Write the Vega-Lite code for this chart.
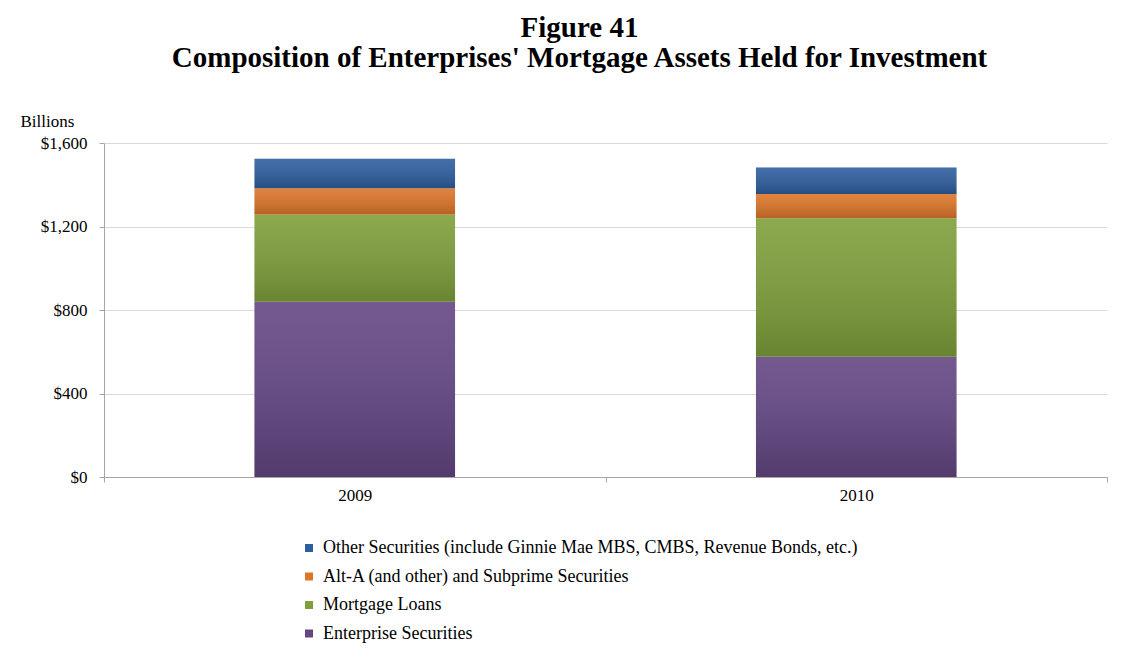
{
  "$schema": "https://vega.github.io/schema/vega-lite/v6.json",
  "width": 1003,
  "height": 334,
  "autosize": {"type": "none"},
  "padding": {"left": 104, "top": 143, "right": 33, "bottom": 187},
  "background": "white",
  "config": {
    "font": "Liberation Serif",
    "view": {"stroke": null}
  },
  "title": {
    "text": ["Figure 41", "Composition of Enterprises' Mortgage Assets Held for Investment"],
    "font": "Liberation Serif",
    "fontSize": 29,
    "fontWeight": "bold",
    "color": "black",
    "anchor": "middle",
    "frame": "group",
    "dx": -26,
    "dy": 1,
    "lineHeight": 30,
    "offset": 40
  },
  "data": {
    "values": [
      {"year": "2009", "series": "Enterprise Securities", "value": 839},
      {"year": "2009", "series": "Mortgage Loans", "value": 419},
      {"year": "2009", "series": "Alt-A (and other) and Subprime Securities", "value": 125},
      {"year": "2009", "series": "Other Securities (include Ginnie Mae MBS, CMBS, Revenue Bonds, etc.)", "value": 142},
      {"year": "2010", "series": "Enterprise Securities", "value": 576},
      {"year": "2010", "series": "Mortgage Loans", "value": 663},
      {"year": "2010", "series": "Alt-A (and other) and Subprime Securities", "value": 117},
      {"year": "2010", "series": "Other Securities (include Ginnie Mae MBS, CMBS, Revenue Bonds, etc.)", "value": 127}
    ]
  },
  "transform": [
    {"calculate": "indexof(['Enterprise Securities','Mortgage Loans','Alt-A (and other) and Subprime Securities','Other Securities (include Ginnie Mae MBS, CMBS, Revenue Bonds, etc.)'], datum.series)", "as": "k"}
  ],
  "encoding": {
    "x": {
      "field": "year",
      "type": "nominal",
      "scale": {"paddingInner": 0, "paddingOuter": 0},
      "axis": {
        "title": null,
        "labelAngle": 0,
        "labelFont": "Liberation Serif",
        "labelFontSize": 17,
        "labelColor": "black",
        "labelPadding": 5,
        "tickSize": 5,
        "tickColor": "#a6a6a6",
        "tickBand": "extent",
        "domainColor": "#a6a6a6",
        "grid": false
      }
    },
    "y": {
      "field": "value",
      "type": "quantitative",
      "stack": "zero",
      "scale": {"domain": [0, 1600], "nice": false},
      "axis": {
        "values": [0, 400, 800, 1200, 1600],
        "format": "$,.0f",
        "labelFont": "Liberation Serif",
        "labelFontSize": 17,
        "labelColor": "black",
        "labelPadding": 12,
        "tickSize": 5,
        "tickColor": "#a6a6a6",
        "domainColor": "#a6a6a6",
        "gridColor": "#d9d9d9",
        "title": "Billions",
        "titleAngle": 0,
        "titleAlign": "left",
        "titleBaseline": "middle",
        "titleX": -84,
        "titleY": -22,
        "titleFont": "Liberation Serif",
        "titleFontSize": 17,
        "titleFontWeight": "normal",
        "titleColor": "black"
      }
    },
    "order": {"field": "k", "type": "quantitative"}
  },
  "layer": [
    {
      "mark": {"type": "bar", "width": {"band": 0.4}},
      "encoding": {
        "color": {
          "field": "series",
          "type": "nominal",
          "scale": {
            "domain": [
              "Other Securities (include Ginnie Mae MBS, CMBS, Revenue Bonds, etc.)",
              "Alt-A (and other) and Subprime Securities",
              "Mortgage Loans",
              "Enterprise Securities"
            ],
            "range": ["#2e5e9e", "#dc7528", "#7e9f3a", "#634683"]
          },
          "legend": {
            "title": null,
            "orient": "none",
            "legendX": 196,
            "legendY": 396,
            "direction": "vertical",
            "symbolType": "square",
            "symbolSize": 64,
            "symbolStrokeWidth": 0,
            "labelFont": "Liberation Serif",
            "labelFontSize": 18,
            "labelColor": "black",
            "labelOffset": 5,
            "labelLimit": 800,
            "rowPadding": 10.5
          }
        }
      }
    },
    {
      "mark": {
        "type": "bar",
        "width": {"band": 0.4},
        "fill": {
          "gradient": "linear",
          "x1": 0, "y1": 0, "x2": 0, "y2": 1,
          "stops": [
            {"offset": 0, "color": "rgba(255,255,255,0.1)"},
            {"offset": 1, "color": "rgba(0,0,0,0.17)"}
          ]
        }
      },
      "encoding": {"detail": {"field": "series", "type": "nominal"}}
    }
  ]
}
